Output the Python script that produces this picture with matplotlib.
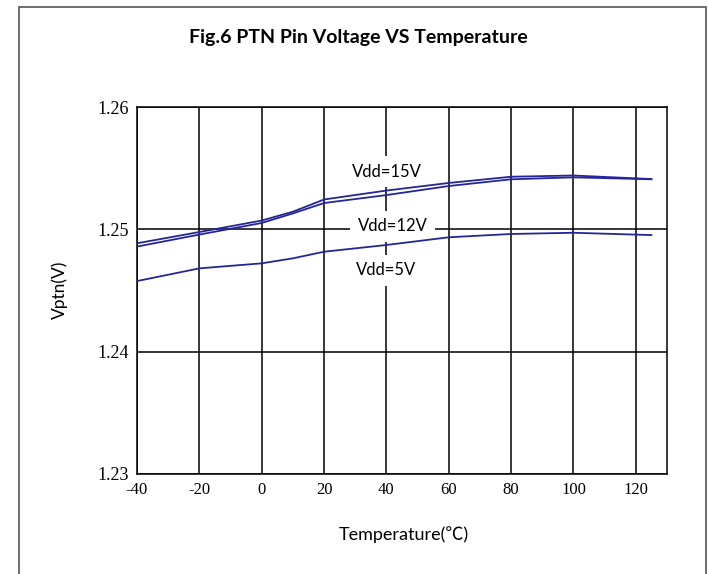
import matplotlib
matplotlib.use("Agg")
import matplotlib.pyplot as plt
from matplotlib.patches import Rectangle

# temperature points (C) and Vptn readings (V)
temp = [-40, -20, 0, 10, 20, 40, 60, 80, 100, 125]
vdd15 = [1.24886, 1.24978, 1.25072, 1.25144, 1.25244, 1.25317, 1.25379, 1.25430, 1.25440, 1.25411]
vdd12 = [1.24859, 1.24957, 1.25052, 1.25130, 1.25215, 1.25280, 1.25354, 1.25409, 1.25425, 1.25409]
vdd5 = [1.24577, 1.24681, 1.24722, 1.24763, 1.24817, 1.24872, 1.24935, 1.24962, 1.24972, 1.24953]

x_ticks = [-40, -20, 0, 20, 40, 60, 80, 100, 120]
y_ticks = [1.23, 1.24, 1.25, 1.26]

line_color = "#25259a"
sans = ["Lato", "Noto Sans CJK SC", "DejaVu Sans"]

fig = plt.figure(figsize=(7.08, 5.74), dpi=100)
fig.patches.append(Rectangle((19 / 708, -0.05), (706 - 19) / 708, 1.05 - 7 / 574,
                             transform=fig.transFigure, fill=False,
                             edgecolor="#555555", linewidth=1.2))

ax = fig.add_axes([137 / 708, 1 - 474 / 574, 530 / 708, 367 / 574])
ax.plot(temp, vdd15, color=line_color, lw=1.3, zorder=3)
ax.plot(temp, vdd12, color=line_color, lw=1.3, zorder=3)
ax.plot(temp, vdd5, color=line_color, lw=1.3, zorder=3)

ax.set_xlim(-40, 130)
ax.set_ylim(1.23, 1.26)
ax.set_xticks(x_ticks)
ax.set_yticks(y_ticks)
ax.set_xticklabels([str(t) for t in x_ticks], family="Liberation Serif", fontsize=12)
ax.set_yticklabels([f"{v:.2f}" for v in y_ticks], family="Liberation Serif", fontsize=13)
ax.tick_params(length=0, pad=6)
ax.grid(True, color="black", lw=1.1, zorder=1)
ax.set_axisbelow(True)
for s in ax.spines.values():
    s.set_color("black")
    s.set_linewidth(1.1)

# labels sit over the grid but under the curves
box = dict(facecolor="white", edgecolor="none", boxstyle="square,pad=0.45")
ax.text(40, 1.25469, "Vdd=15V", ha="center", va="center", fontsize=12, family=sans, bbox=box, zorder=2)
ax.text(42, 1.25027, "Vdd=12V", ha="center", va="center", fontsize=12, family=sans, bbox=box, zorder=2)
ax.text(40, 1.24667, "Vdd=5V", ha="center", va="center", fontsize=12, family=sans, bbox=box, zorder=2)

fig.text(358 / 708, 1 - 38 / 574, "Fig.6 PTN Pin Voltage VS Temperature",
         ha="center", va="center", fontsize=14, fontweight="bold", family=sans)
fig.text(404 / 708, 1 - 535 / 574, "Temperature(℃)", ha="center", va="center",
         fontsize=13, family=sans)
fig.text(60 / 708, 1 - 290 / 574, "Vptn(V)", ha="center", va="center",
         rotation=90, fontsize=12.5, family=sans)

fig.savefig("out.png", dpi=100)
